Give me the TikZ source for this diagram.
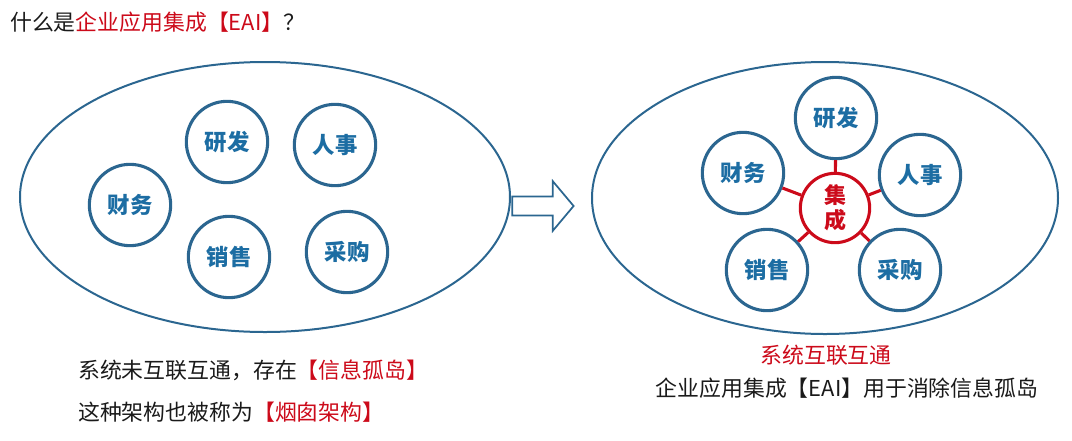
\documentclass[tikz,border=0pt]{standalone}
\usepackage{fontspec}
\setmainfont{Noto Sans CJK SC}
\usetikzlibrary{positioning,shapes.arrows}
\definecolor{steel}{HTML}{2B6690}
\definecolor{deptblue}{HTML}{1C6DA3}
\definecolor{eaired}{HTML}{CC0A1A}
\definecolor{inkgrey}{HTML}{1A1A1A}

\begin{document}
\begin{tikzpicture}[
  x=0.75pt, y=-0.75pt,
  dept/.style={circle, draw=steel, line width=2.3pt, fill=white, minimum size=61pt, inner sep=0pt, text=deptblue, font=\fontsize{16.8}{18}\selectfont\bfseries},
  hub/.style={circle, draw=eaired, line width=2.3pt, fill=white, minimum size=52pt, inner sep=0pt, text=eaired, align=center, font=\fontsize{16.5}{19}\selectfont\bfseries},
  realm/.style={draw=steel, line width=1.5pt},
  link/.style={eaired, line width=2.3pt},
  note/.style={inner sep=0pt, text=inkgrey, font=\fontsize{16.4}{18}\selectfont},
  thenarrow/.style={single arrow, draw=steel, line width=1.3pt, fill=white, minimum height=46pt, inner sep=6.4pt, single arrow head extend=11.5pt, single arrow tip angle=100}
]
\useasboundingbox (0,0) rectangle (1072,440);

% question
\node[note, anchor=west] (title) at (10,22) {什么是\textcolor{eaired}{企业应用集成【EAI】}？};

% before: isolated systems
\draw[realm] (265,197) ellipse [x radius=245, y radius=135];
\node[dept] (fin1) at (130,205) {财务};
\node[dept] (rd1) at (227,142) {研发};
\node[dept] (hr1) at (335,145) {人事};
\node[dept] (sale1) at (229,257) {销售};
\node[dept] (buy1) at (347,252) {采购};

\node[note, anchor=west] (silo) at (78,370) {系统未互联互通，存在\textcolor{eaired}{【信息孤岛】}};
\node[note, anchor=west] (chimney) at (78,412) {这种架构也被称为\textcolor{eaired}{【烟囱架构】}};

\node[thenarrow] (step) at (539,206) {};

% after: integrated systems
\draw[realm] (825,198) ellipse [x radius=233, y radius=136];
\node[dept] (rd2) at (836,118) {研发};
\node[dept] (fin2) at (743,173) {财务};
\node[dept] (hr2) at (920,175) {人事};
\node[dept] (sale2) at (767,270) {销售};
\node[dept] (buy2) at (900,270) {采购};
\node[hub] (eai) at (835,208) {集\\成};
\foreach \d in {rd2,fin2,hr2,sale2,buy2}
  \draw[link] (eai) -- (\d);

\node[note, text=eaired] (linked) at (826,355) {系统互联互通};
\node[note] (purpose) at (847,388) {企业应用集成【EAI】用于消除信息孤岛};
\end{tikzpicture}
\end{document}
